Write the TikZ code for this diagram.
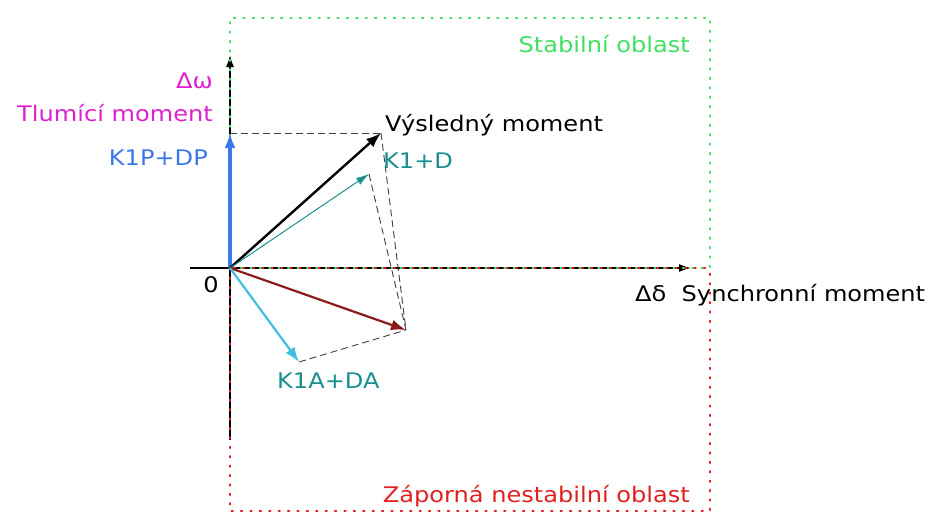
\documentclass[tikz,border=0pt]{standalone}
\usepackage{fontspec}
\setmainfont[FakeStretch=1.12]{DejaVu Sans}
\usetikzlibrary{arrows.meta}
\definecolor{cmag}{HTML}{E020D0}
\definecolor{cblue}{HTML}{3A78E8}
\definecolor{cteal}{HTML}{1A9090}
\definecolor{cdred}{HTML}{8B1A1A}
\definecolor{ccyan}{HTML}{40BFE0}
\definecolor{cgreen}{HTML}{40E060}
\definecolor{cred}{HTML}{E02020}
\tikzset{
  lbl/.style={font=\fontsize{21.5}{24}\selectfont, inner sep=0pt},
  gdot/.style={cgreen, line width=1.6pt, dash pattern=on 1.6pt off 7.8pt, line cap=round},
  rdot/.style={cred, line width=1.6pt, dash pattern=on 1.6pt off 7.8pt, line cap=round},
  vec/.style={-{Latex[length=15pt,width=11pt]}},
  aux/.style={black!75, line width=0.9pt, dash pattern=on 7pt off 4pt},
  axis/.style={black, line width=1.5pt},
}
\begin{document}
\begin{tikzpicture}[x=1pt,y=-1pt]
\useasboundingbox (0,0) rectangle (935,514);
% coordinates
\coordinate (O) at (230,268);
\coordinate (xl) at (190,268);
\coordinate (xr) at (691,268);
\coordinate (yb) at (230,440);
\coordinate (yt) at (230,55);
\coordinate (P) at (230,133);
\coordinate (R) at (381,133);
\coordinate (K) at (369,174);
\coordinate (S) at (406,330);
\coordinate (A) at (299,362);
\coordinate (g1) at (230,18);
\coordinate (g2) at (710,18);
\coordinate (g3) at (710,268);
\coordinate (r1) at (710,511);
\coordinate (r2) at (230,511);
% axes
\draw[axis,-{Latex[length=12pt,width=8pt]}] (xl) -- (xr);
\draw[axis,-{Latex[length=12pt,width=8pt]}] (yb) -- (yt);
% region borders
\draw[gdot] (O) -- (g1) -- (g2) -- (g3) -- (O);
\draw[rdot, dash phase=4.7pt] (g3) -- (O);
\draw[rdot] (O) -- (r2) -- (r1) -- (g3);
% auxiliary dashed lines
\draw[aux] (P) -- (R);
\draw[aux] (R) -- (S);
\draw[aux] (K) -- (S);
\draw[aux] (A) -- (S);
% vectors
\draw[vec, cblue, line width=3.2pt] (O) -- (P);
\draw[vec, black, line width=2.4pt] (O) -- (R);
\draw[cteal, line width=1pt, -{Latex[length=13pt,width=8pt]}] (O) -- (K);
\draw[vec, cdred, line width=2.2pt] (O) -- (S);
\draw[vec, ccyan, line width=2.2pt] (O) -- (A);
% labels
\node[lbl, cmag, anchor=base east] (lw) at (213,88) {Δω};
\node[lbl, cmag, anchor=base east] (lt) at (213,121) {Tlumící moment};
\node[lbl, cblue, anchor=base east] (lp) at (208,165) {K1P+DP};
\node[lbl, black, anchor=base west] (lr) at (385,131) {Výsledný moment};
\node[lbl, cteal, anchor=base west] (lk) at (383,168) {K1+D};
\node[lbl, black, anchor=base] (l0) at (211,292) {0};
\node[lbl, black, anchor=base west] (ld) at (635,301) {Δδ\ \ Synchronní moment};
\node[lbl, cteal, anchor=base west] (la) at (277,388) {K1A+DA};
\node[lbl, cgreen, anchor=base east] (ls) at (690,52) {Stabilní oblast};
\node[lbl, cred, anchor=base east] (lz) at (690,502) {Záporná nestabilní oblast};
\end{tikzpicture}
\end{document}
